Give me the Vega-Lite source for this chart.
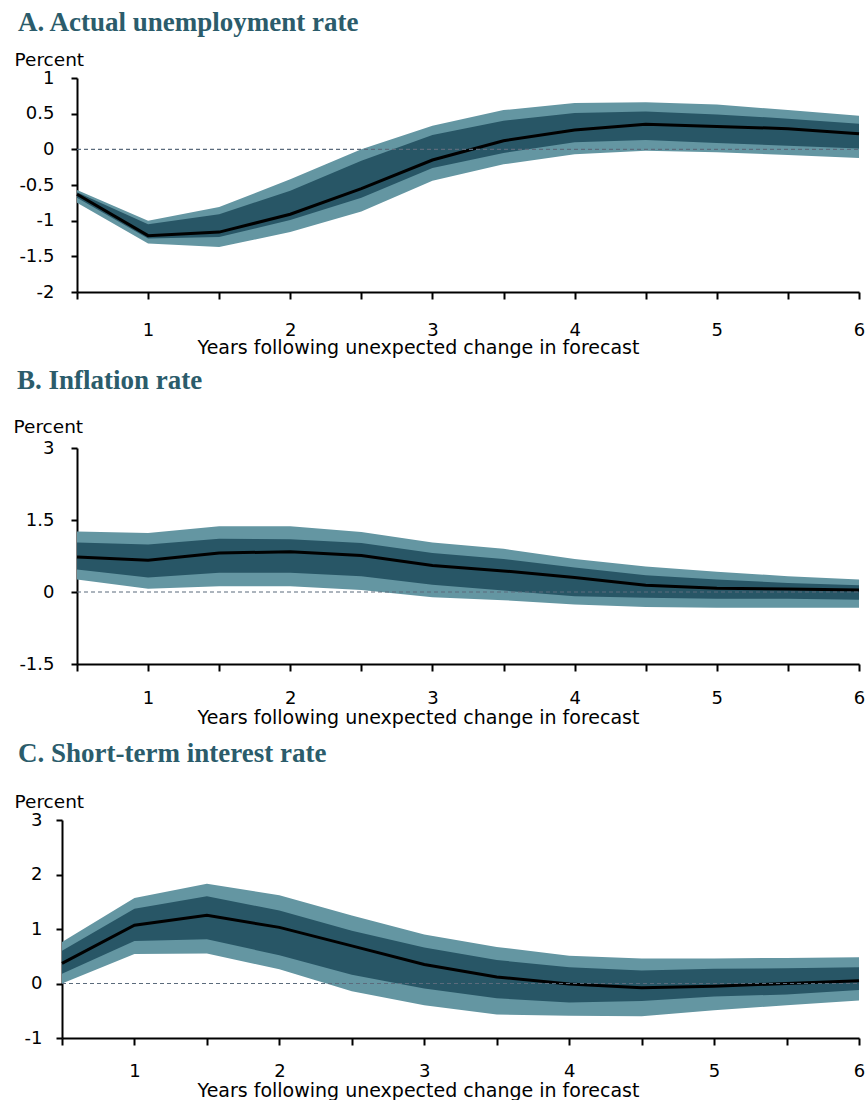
{
  "$schema": "https://vega.github.io/schema/vega-lite/v6.json",
  "background": "white",
  "padding": {"left": 13, "top": 9, "right": 0, "bottom": 0},
  "columns": 1,
  "spacing": {"row": 10, "column": 0},
  "datasets": {
    "unemployment": [
      {"year": 0.5, "outer_low": -0.75, "inner_low": -0.68, "estimate": -0.63, "inner_high": -0.60, "outer_high": -0.57},
      {"year": 1.0, "outer_low": -1.32, "inner_low": -1.25, "estimate": -1.21, "inner_high": -1.05, "outer_high": -1.00},
      {"year": 1.5, "outer_low": -1.37, "inner_low": -1.23, "estimate": -1.16, "inner_high": -0.91, "outer_high": -0.81},
      {"year": 2.0, "outer_low": -1.16, "inner_low": -0.99, "estimate": -0.91, "inner_high": -0.58, "outer_high": -0.42},
      {"year": 2.5, "outer_low": -0.87, "inner_low": -0.68, "estimate": -0.55, "inner_high": -0.16, "outer_high": 0.00},
      {"year": 3.0, "outer_low": -0.44, "inner_low": -0.26, "estimate": -0.15, "inner_high": 0.20, "outer_high": 0.33},
      {"year": 3.5, "outer_low": -0.21, "inner_low": -0.05, "estimate": 0.12, "inner_high": 0.40, "outer_high": 0.55},
      {"year": 4.0, "outer_low": -0.07, "inner_low": 0.10, "estimate": 0.27, "inner_high": 0.51, "outer_high": 0.65},
      {"year": 4.5, "outer_low": -0.02, "inner_low": 0.13, "estimate": 0.35, "inner_high": 0.53, "outer_high": 0.66},
      {"year": 5.0, "outer_low": -0.04, "inner_low": 0.09, "estimate": 0.32, "inner_high": 0.49, "outer_high": 0.63},
      {"year": 5.5, "outer_low": -0.08, "inner_low": 0.05, "estimate": 0.29, "inner_high": 0.43, "outer_high": 0.55},
      {"year": 6.0, "outer_low": -0.12, "inner_low": 0.01, "estimate": 0.22, "inner_high": 0.36, "outer_high": 0.47}
    ],
    "inflation": [
      {"year": 0.5, "outer_low": 0.26, "inner_low": 0.47, "estimate": 0.73, "inner_high": 1.03, "outer_high": 1.26},
      {"year": 1.0, "outer_low": 0.07, "inner_low": 0.30, "estimate": 0.66, "inner_high": 0.99, "outer_high": 1.23},
      {"year": 1.5, "outer_low": 0.12, "inner_low": 0.40, "estimate": 0.81, "inner_high": 1.11, "outer_high": 1.37},
      {"year": 2.0, "outer_low": 0.12, "inner_low": 0.40, "estimate": 0.84, "inner_high": 1.10, "outer_high": 1.37},
      {"year": 2.5, "outer_low": 0.04, "inner_low": 0.33, "estimate": 0.76, "inner_high": 1.02, "outer_high": 1.25},
      {"year": 3.0, "outer_low": -0.11, "inner_low": 0.15, "estimate": 0.55, "inner_high": 0.81, "outer_high": 1.03},
      {"year": 3.5, "outer_low": -0.17, "inner_low": 0.03, "estimate": 0.44, "inner_high": 0.69, "outer_high": 0.90},
      {"year": 4.0, "outer_low": -0.26, "inner_low": -0.09, "estimate": 0.30, "inner_high": 0.51, "outer_high": 0.69},
      {"year": 4.5, "outer_low": -0.31, "inner_low": -0.12, "estimate": 0.14, "inner_high": 0.35, "outer_high": 0.53},
      {"year": 5.0, "outer_low": -0.33, "inner_low": -0.14, "estimate": 0.08, "inner_high": 0.26, "outer_high": 0.42},
      {"year": 5.5, "outer_low": -0.33, "inner_low": -0.14, "estimate": 0.06, "inner_high": 0.19, "outer_high": 0.33},
      {"year": 6.0, "outer_low": -0.33, "inner_low": -0.16, "estimate": 0.04, "inner_high": 0.14, "outer_high": 0.26}
    ],
    "interest": [
      {"year": 0.5, "outer_low": 0.00, "inner_low": 0.18, "estimate": 0.37, "inner_high": 0.60, "outer_high": 0.76},
      {"year": 1.0, "outer_low": 0.54, "inner_low": 0.78, "estimate": 1.07, "inner_high": 1.37, "outer_high": 1.57},
      {"year": 1.5, "outer_low": 0.55, "inner_low": 0.81, "estimate": 1.25, "inner_high": 1.60, "outer_high": 1.83},
      {"year": 2.0, "outer_low": 0.26, "inner_low": 0.52, "estimate": 1.03, "inner_high": 1.34, "outer_high": 1.62},
      {"year": 2.5, "outer_low": -0.14, "inner_low": 0.16, "estimate": 0.69, "inner_high": 0.97, "outer_high": 1.25},
      {"year": 3.0, "outer_low": -0.40, "inner_low": -0.09, "estimate": 0.35, "inner_high": 0.66, "outer_high": 0.90},
      {"year": 3.5, "outer_low": -0.57, "inner_low": -0.27, "estimate": 0.12, "inner_high": 0.43, "outer_high": 0.67},
      {"year": 4.0, "outer_low": -0.59, "inner_low": -0.35, "estimate": -0.01, "inner_high": 0.30, "outer_high": 0.51},
      {"year": 4.5, "outer_low": -0.60, "inner_low": -0.32, "estimate": -0.08, "inner_high": 0.24, "outer_high": 0.46},
      {"year": 5.0, "outer_low": -0.49, "inner_low": -0.24, "estimate": -0.05, "inner_high": 0.27, "outer_high": 0.46},
      {"year": 5.5, "outer_low": -0.40, "inner_low": -0.20, "estimate": 0.00, "inner_high": 0.28, "outer_high": 0.47},
      {"year": 6.0, "outer_low": -0.31, "inner_low": -0.12, "estimate": 0.05, "inner_high": 0.30, "outer_high": 0.48}
    ]
  },
  "config": {
    "view": {"stroke": null},
    "axis": {
      "grid": false,
      "domainColor": "#000000",
      "domainWidth": 2,
      "tickColor": "#000000",
      "tickWidth": 2,
      "tickCount": 20,
      "labelFont": "DejaVu Sans",
      "labelFontSize": 18,
      "labelColor": "#000000",
      "titleFont": "DejaVu Sans",
      "titleFontSize": 18.5,
      "titleFontWeight": "normal",
      "titleColor": "#000000",
      "labelFlush": false,
      "labelOverlap": false
    },
    "title": {"font": "Liberation Serif", "fontSize": 27, "fontWeight": "bold", "color": "#2b5c6b", "anchor": "start", "frame": "bounds"}
  },
  "concat": [
    {
      "title": {"text": "A. Actual unemployment rate", "offset": 13, "dx": 4},
      "width": 797,
      "height": 214,
      "data": {"name": "unemployment"},
      "layer": [
        {
          "mark": {"type": "area", "color": "#6496a2"},
          "encoding": {
            "x": {"field": "year", "type": "quantitative", "scale": {"domain": [0.5, 6], "range": [15, 797], "nice": false, "zero": false},
              "axis": {"values": [0.5, 1, 1.5, 2, 2.5, 3, 3.5, 4, 4.5, 5, 5.5, 6], "tickSize": 7, "labelPadding": 22,
                "labelExpr": "datum.value % 1 === 0 ? toString(datum.value) : ''",
                "title": "Years following unexpected change in forecast", "titleX": 356, "titleY": 61,
                "titleBaseline": "alphabetic", "titleAlign": "center", "titleFontSize": 19}},
            "y": {"field": "outer_low", "type": "quantitative", "scale": {"domain": [-2, 1], "nice": false, "zero": false},
              "axis": {"values": [-2, -1.5, -1, -0.5, 0, 0.5, 1], "offset": -15, "tickSize": 6, "labelPadding": 17,
                "labelExpr": "toString(datum.value)",
                "title": "Percent", "titleAngle": 0, "titleAlign": "left", "titleBaseline": "alphabetic", "titleX": -63, "titleY": -13}},
            "y2": {"field": "outer_high"}
          }
        },
        {
          "mark": {"type": "area", "color": "#285666"},
          "encoding": {
            "x": {"field": "year", "type": "quantitative"},
            "y": {"field": "inner_low", "type": "quantitative"},
            "y2": {"field": "inner_high"}
          }
        },
        {
          "mark": {"type": "line", "color": "#000000", "strokeWidth": 3},
          "encoding": {
            "x": {"field": "year", "type": "quantitative"},
            "y": {"field": "estimate", "type": "quantitative"}
          }
        },
        {
          "data": {"values": [{}]},
          "mark": {"type": "rule", "color": "#5b6b7c", "strokeWidth": 1.2, "strokeDash": [4, 3]},
          "encoding": {"x": {"datum": 0.5, "type": "quantitative"}, "x2": {"datum": 6}, "y": {"datum": 0, "type": "quantitative"}}
        }
      ]
    },
    {
      "title": {"text": "B. Inflation rate", "offset": 22, "dx": 4},
      "width": 797,
      "height": 216,
      "data": {"name": "inflation"},
      "layer": [
        {
          "mark": {"type": "area", "color": "#6496a2"},
          "encoding": {
            "x": {"field": "year", "type": "quantitative", "scale": {"domain": [0.5, 6], "range": [15, 797], "nice": false, "zero": false},
              "axis": {"values": [0.5, 1, 1.5, 2, 2.5, 3, 3.5, 4, 4.5, 5, 5.5, 6], "tickSize": 7, "labelPadding": 18,
                "labelExpr": "datum.value % 1 === 0 ? toString(datum.value) : ''",
                "title": "Years following unexpected change in forecast", "titleX": 356, "titleY": 59,
                "titleBaseline": "alphabetic", "titleAlign": "center", "titleFontSize": 19}},
            "y": {"field": "outer_low", "type": "quantitative", "scale": {"domain": [-1.5, 3], "nice": false, "zero": false},
              "axis": {"values": [-1.5, 0, 1.5, 3], "offset": -15, "tickSize": 6, "labelPadding": 17,
                "labelExpr": "toString(datum.value)",
                "title": "Percent", "titleAngle": 0, "titleAlign": "left", "titleBaseline": "alphabetic", "titleX": -64, "titleY": -16}},
            "y2": {"field": "outer_high"}
          }
        },
        {
          "mark": {"type": "area", "color": "#285666"},
          "encoding": {
            "x": {"field": "year", "type": "quantitative"},
            "y": {"field": "inner_low", "type": "quantitative"},
            "y2": {"field": "inner_high"}
          }
        },
        {
          "mark": {"type": "line", "color": "#000000", "strokeWidth": 3},
          "encoding": {
            "x": {"field": "year", "type": "quantitative"},
            "y": {"field": "estimate", "type": "quantitative"}
          }
        },
        {
          "data": {"values": [{}]},
          "mark": {"type": "rule", "color": "#5b6b7c", "strokeWidth": 1.2, "strokeDash": [4, 3]},
          "encoding": {"x": {"datum": 0.5, "type": "quantitative"}, "x2": {"datum": 6}, "y": {"datum": 0, "type": "quantitative"}}
        }
      ]
    },
    {
      "title": {"text": ["", "C. Short-term interest rate"], "lineHeight": 3, "offset": 24, "dx": 4},
      "width": 797,
      "height": 218,
      "data": {"name": "interest"},
      "layer": [
        {
          "mark": {"type": "area", "color": "#6496a2"},
          "encoding": {
            "x": {"field": "year", "type": "quantitative", "scale": {"domain": [0.5, 6], "nice": false, "zero": false},
              "axis": {"values": [0.5, 1, 1.5, 2, 2.5, 3, 3.5, 4, 4.5, 5, 5.5, 6], "tickSize": 7, "labelPadding": 17,
                "labelExpr": "datum.value % 1 === 0 ? toString(datum.value) : ''",
                "title": "Years following unexpected change in forecast", "titleX": 356, "titleY": 58,
                "titleBaseline": "alphabetic", "titleAlign": "center", "titleFontSize": 19}},
            "y": {"field": "outer_low", "type": "quantitative", "scale": {"domain": [-1, 3], "nice": false, "zero": false},
              "axis": {"values": [-1, 0, 1, 2, 3], "tickSize": 6, "labelPadding": 14,
                "labelExpr": "toString(datum.value)",
                "title": "Percent", "titleAngle": 0, "titleAlign": "left", "titleBaseline": "alphabetic", "titleX": -48, "titleY": -13}},
            "y2": {"field": "outer_high"}
          }
        },
        {
          "mark": {"type": "area", "color": "#285666"},
          "encoding": {
            "x": {"field": "year", "type": "quantitative"},
            "y": {"field": "inner_low", "type": "quantitative"},
            "y2": {"field": "inner_high"}
          }
        },
        {
          "mark": {"type": "line", "color": "#000000", "strokeWidth": 3},
          "encoding": {
            "x": {"field": "year", "type": "quantitative"},
            "y": {"field": "estimate", "type": "quantitative"}
          }
        },
        {
          "data": {"values": [{}]},
          "mark": {"type": "rule", "color": "#5b6b7c", "strokeWidth": 1.2, "strokeDash": [4, 3]},
          "encoding": {"x": {"datum": 0.5, "type": "quantitative"}, "x2": {"datum": 6}, "y": {"datum": 0, "type": "quantitative"}}
        }
      ]
    }
  ]
}
